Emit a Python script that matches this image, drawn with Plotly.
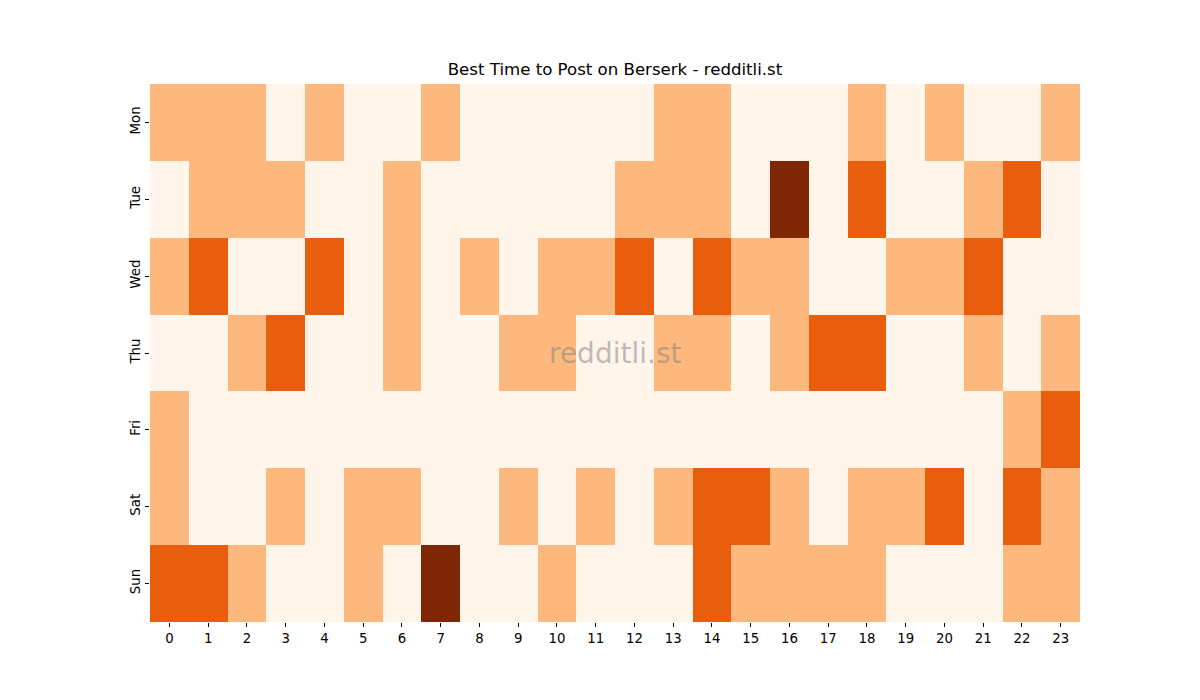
import plotly.graph_objects as go

days = ['Mon', 'Tue', 'Wed', 'Thu', 'Fri', 'Sat', 'Sun']
hours = list(range(24))

# post activity level per hour (0..3)
mon = [1, 1, 1, 0, 1, 0, 0, 1, 0, 0, 0, 0, 0, 1, 1, 0, 0, 0, 1, 0, 1, 0, 0, 1]
tue = [0, 1, 1, 1, 0, 0, 1, 0, 0, 0, 0, 0, 1, 1, 1, 0, 3, 0, 2, 0, 0, 1, 2, 0]
wed = [1, 2, 0, 0, 2, 0, 1, 0, 1, 0, 1, 1, 2, 0, 2, 1, 1, 0, 0, 1, 1, 2, 0, 0]
thu = [0, 0, 1, 2, 0, 0, 1, 0, 0, 1, 1, 0, 0, 1, 1, 0, 1, 2, 2, 0, 0, 1, 0, 1]
fri = [1, 0, 0, 0, 0, 0, 0, 0, 0, 0, 0, 0, 0, 0, 0, 0, 0, 0, 0, 0, 0, 0, 1, 2]
sat = [1, 0, 0, 1, 0, 1, 1, 0, 0, 1, 0, 1, 0, 1, 2, 2, 1, 0, 1, 1, 2, 0, 2, 1]
sun = [2, 2, 1, 0, 0, 1, 0, 3, 0, 0, 1, 0, 0, 0, 2, 1, 1, 1, 1, 0, 0, 0, 1, 1]

z = [mon, tue, wed, thu, fri, sat, sun]

# matplotlib "Oranges" sampled at 0, 1/3, 2/3, 1
oranges = [[0, '#fff5eb'], [1/3, '#fdb97d'], [2/3, '#e95e0d'], [1, '#7f2704']]

fig = go.Figure(go.Heatmap(
    z=z, x=hours, y=days,
    zmin=0, zmax=3,
    colorscale=oranges,
    showscale=False,
    hovertemplate='%{y} %{x}:00 - %{z}<extra></extra>',
))

font = dict(family='DejaVu Sans', size=13.3, color='black')

fig.update_layout(
    title=dict(text='Best Time to Post on Berserk - redditli.st', xref='paper', x=0.5, xanchor='center',
               y=0.905, yanchor='bottom', font=dict(family='DejaVu Sans', size=16.6, color='black')),
    width=1200, height=700,
    margin=dict(l=142, r=128, t=76, b=86),  # page adds 8px body margin
    paper_bgcolor='white', plot_bgcolor='white',
    font=font,
    xaxis=dict(tickmode='array', tickvals=hours, ticktext=[str(h) for h in hours],
               ticks='outside', ticklen=4, tickcolor='black', showgrid=False,
               zeroline=False, showline=False),
    yaxis=dict(autorange='reversed', ticks='outside', ticklen=4, tickcolor='black',
               tickangle=-90, showgrid=False, zeroline=False, showline=False),
    annotations=[dict(text='redditli.st', x=0.5, y=0.5, xref='paper', yref='paper',
                      showarrow=False, font=dict(family='DejaVu Sans', size=28,
                                                 color='rgba(128,128,128,0.5)'))],
)

fig.write_html('out.html')
